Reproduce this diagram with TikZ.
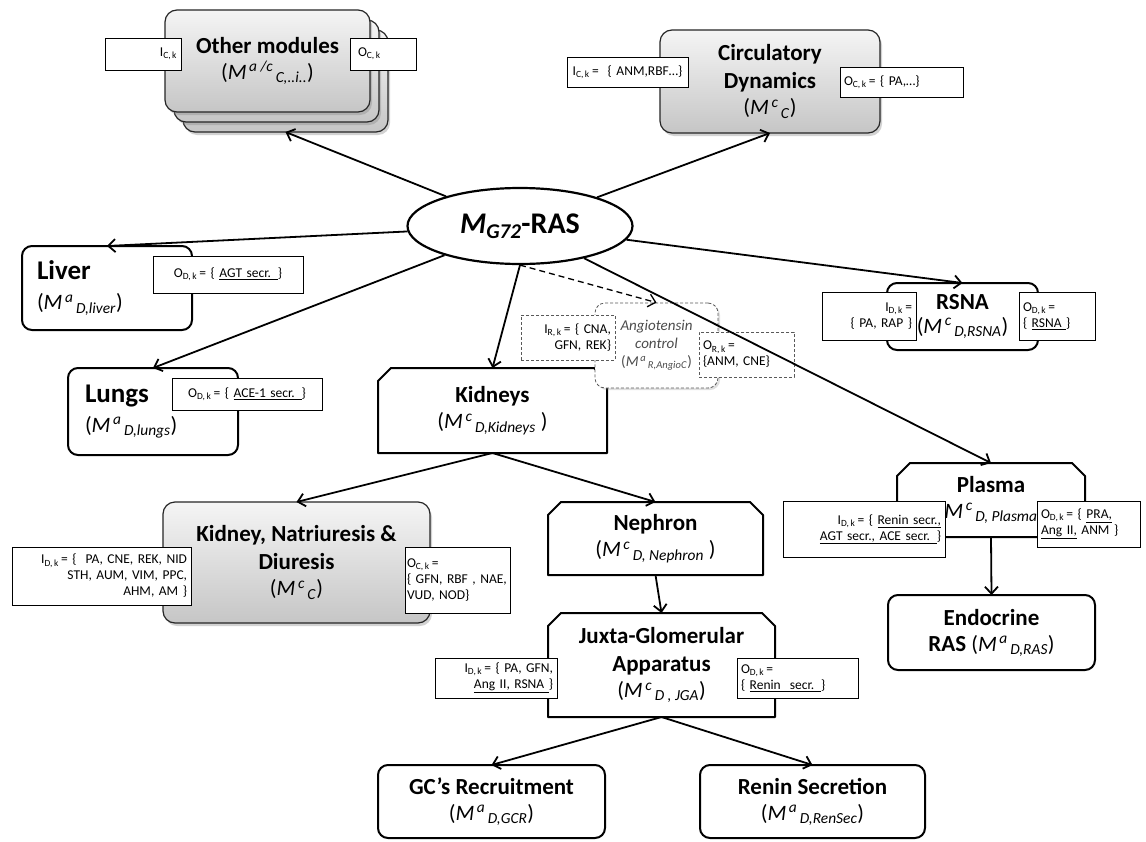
\documentclass[tikz,border=0pt]{standalone}
\usepackage{fontspec}
\setmainfont{Carlito}
\usetikzlibrary{arrows.meta,shadows,backgrounds,shapes.geometric}
\newcommand{\Mx}[2]{\textit{M}\textsuperscript{\,\textit{#1}}\textsubscript{\,\textit{#2}}}
\newcommand{\sbk}[1]{\textsubscript{#1,\,k}}
\newcommand{\ftitle}{\fontsize{23}{28}\selectfont\bfseries}
\newcommand{\fsub}{\fontsize{22}{26}\selectfont\mdseries}
\newcommand{\fbig}{\fontsize{27}{32}\selectfont\bfseries}
\newcommand{\fsmall}{\fontsize{13.5}{16}\selectfont}
\newcommand{\snipout}[1]{\draw[snipline] ([xshift=13pt]#1.north west) -- ([xshift=-13pt]#1.north east) -- ([yshift=-13pt]#1.north east) -- (#1.south east) -- (#1.south west) -- ([yshift=-13pt]#1.north west) -- cycle;}
\begin{document}
\begin{tikzpicture}[x=1pt,y=-1pt,
  graybox/.style={rounded corners=12pt, draw=black!85, line width=1.2pt, top color=gray!8, bottom color=gray!45,
    drop shadow={opacity=0.35,shadow xshift=2pt,shadow yshift=-3pt}, inner sep=0pt, outer sep=0pt, align=center, font=\ftitle},
  whitebox/.style={rounded corners=10pt, draw, line width=2pt, fill=white, inner sep=0pt, outer sep=0pt, align=center, font=\ftitle},
  snipnode/.style={draw=none, inner sep=0pt, outer sep=0pt, align=center, font=\ftitle},
  snipline/.style={draw, line width=2pt, fill=white, line join=round},
  io/.style={draw, line width=1pt, fill=white, font=\fsmall, inner xsep=4pt, inner ysep=0pt, outer sep=0pt},
  dio/.style={io, draw=gray!70!black, line width=0.8pt, dash pattern=on 3pt off 2pt},
  conn/.style={line width=1.8pt, -{Straight Barb[length=7pt,width=13pt]}},
  dconn/.style={line width=1.3pt, dash pattern=on 6pt off 4pt, -{Straight Barb[length=7pt,width=13pt]}}]
\useasboundingbox (0,0) rectangle (1146,841);

% Other modules (stack)
\node[graybox, minimum width=205pt, minimum height=102pt] (om3) at (285.5,81) {};
\node[graybox, minimum width=205pt, minimum height=102pt] (om2) at (276.5,71) {};
\node[graybox, minimum width=205pt, minimum height=102pt] (om1) at (267.5,61) {Other modules\\[-2pt]{\fsub(\Mx{a /c}{C,..i..})}};

% Circulatory dynamics
\node[graybox, minimum width=220pt, minimum height=103pt] (circ) at (770,81.5) {Circulatory\\Dynamics\\[-2pt]{\fsub(\Mx{c}{C})}};

% central ellipse
\node[ellipse, draw, line width=2.2pt, fill=white, minimum width=225pt, minimum height=76pt, inner sep=0pt] (ell) at (520,226)
  {\fontsize{30}{34}\selectfont\bfseries\textit{M}\textsubscript{\textit{G72}}-RAS};

% Liver, Lungs
\node[whitebox, minimum width=170pt, minimum height=84pt, text width=140pt, inner xsep=15pt, align=left, font=\fbig] (liver) at (107,288)
  {Liver\\[-2pt]{\fsub(\Mx{a}{D,liver})}};
\node[whitebox, minimum width=170pt, minimum height=87pt, text width=136pt, inner xsep=17pt, align=left, font=\fbig] (lungs) at (153,411.5)
  {Lungs\\[-2pt]{\fsub(\Mx{a}{D,lungs})}};

% Kidneys (snipped)
\node[snipnode, minimum width=229pt, minimum height=85pt] (kid) at (492.5,410.5) {Kidneys\\[-2pt]{\fsub(\Mx{c}{D,Kidneys} )}};

% Angiotensin control
\node[draw=gray!70!black, line width=0.8pt, dash pattern=on 3pt off 2pt, rounded corners=10pt, fill=white,
  drop shadow={opacity=0.25,shadow xshift=2pt,shadow yshift=-2pt},
  minimum width=123pt, minimum height=85pt, inner sep=0pt, align=center, text=black!70,
  font=\fontsize{15}{18}\selectfont] (ang) at (656.5,345.5)
  {\textit{Angiotensin}\\\textit{control}\\(\Mx{a}{R,AngioC})};

% RSNA
\node[whitebox, minimum width=151pt, minimum height=67pt] (rsna) at (962.5,316.5) {RSNA\\[-4pt]{\fsub(\Mx{c}{D,RSNA})}};

% Plasma (snipped), Endocrine
\node[snipnode, minimum width=188pt, minimum height=74pt] (plasma) at (991,500) {Plasma\\[-2pt]{\fsub\Mx{c}{D, Plasma}}};
\node[whitebox, minimum width=207pt, minimum height=75pt] (endo) at (991.5,632.5) {Endocrine\\[-2pt]RAS {\fsub(\Mx{a}{D,RAS})}};

% Kidney, Natriuresis & Diuresis
\node[graybox, minimum width=267pt, minimum height=121pt] (knd) at (296.5,562.5) {Kidney, Natriuresis \&\\Diuresis\\[-2pt]{\fsub(\Mx{c}{C})}};

% Nephron, JGA (snipped)
\node[snipnode, minimum width=215pt, minimum height=73pt] (neph) at (655.5,538.5) {Nephron\\[-2pt]{\fsub(\Mx{c}{D, Nephron} )}};
\node[snipnode, minimum width=227pt, minimum height=104pt] (jga) at (661.5,665) {Juxta-Glomerular\\Apparatus\\[-2pt]{\fsub(\Mx{c}{D , JGA})}};

% GC's recruitment, Renin secretion
\node[whitebox, minimum width=227pt, minimum height=73pt] (gc) at (491.5,801.5) {GC’s Recruitment\\[-2pt]{\fsub(\Mx{a}{D,GCR})}};
\node[whitebox, minimum width=225pt, minimum height=73pt] (renin) at (812.5,801.5) {Renin Secretion\\[-2pt]{\fsub(\Mx{a}{D,RenSec})}};

% page background and snipped outlines (background layer)
\begin{pgfonlayer}{background}
\fill[white] (0,0) rectangle (1146,841);
\snipout{kid}
\snipout{plasma}
\snipout{neph}
\snipout{jga}
\end{pgfonlayer}

% small I/O boxes
\node[io, minimum width=76pt, minimum height=32pt, text width=68pt, align=right] (omI) at (143,54) {I\sbk{C}\hspace{6pt}};
\node[io, minimum width=66pt, minimum height=32pt, text width=58pt, align=left] (omO) at (383,54) {\hspace{4pt}O\sbk{C}};
\node[io, minimum width=121pt, minimum height=30pt, text width=113pt, align=center] (circI) at (627.5,72) {I\sbk{C}\,= \ \{ ANM,RBF…\}};
\node[io, minimum width=123pt, minimum height=30pt, text width=115pt, align=left] (circO) at (901.5,82) {O\sbk{C}\,= \{ PA,…\}};
\node[io, minimum width=150pt, minimum height=37pt, text width=142pt, align=center] (livO) at (228,274.5) {O\sbk{D}\,= \{ \underline{AGT secr. }\}};
\node[io, minimum width=150pt, minimum height=32pt, text width=142pt, align=center] (lunO) at (247,394) {O\sbk{D}\,= \{ \underline{ACE-1 secr. }\}};
\node[dio, minimum width=94pt, minimum height=45pt, text width=86pt, align=right] (angI) at (568,337.5) {I\sbk{R}\,= \{ CNA,\\GFN, REK\}};
\node[dio, minimum width=95pt, minimum height=45pt, text width=87pt, align=left] (angO) at (746.5,354.5) {O\sbk{R}\,=\\\{ANM, CNE\}};
\node[io, minimum width=94pt, minimum height=48pt, text width=86pt, align=right] (rsnaI) at (869,316) {I\sbk{D}\,=\\\{ PA, RAP \}};
\node[io, minimum width=76pt, minimum height=48pt, text width=68pt, align=left] (rsnaO) at (1057,316) {O\sbk{D}\,=\\\{ \underline{RSNA }\}};
\node[io, minimum width=179pt, minimum height=58pt, text width=171pt, align=right] (kndI) at (101.5,576) {I\sbk{D}\,= \{\ \ PA, CNE, REK, NID\\STH, AUM, VIM, PPC,\\AHM, AM \}};
\node[io, minimum width=105pt, minimum height=66pt, text width=101pt, inner xsep=2pt, align=left] (kndO) at (457.5,580) {O\sbk{C}\,=\\\{ GFN, RBF , NAE,\\VUD, NOD\}};
\node[io, minimum width=162pt, minimum height=56pt, text width=154pt, align=right] (plI) at (864,529) {I\sbk{D}\,= \{ \underline{Renin secr.,}\\\underline{AGT secr., ACE secr. }\}};
\node[io, minimum width=103pt, minimum height=46pt, text width=95pt, align=left] (plO) at (1088.5,524) {O\sbk{D}\,= \{ \underline{PRA,}\\\underline{Ang II,} ANM \}};
\node[io, minimum width=122pt, minimum height=40pt, text width=114pt, align=right] (jgaI) at (496,678) {I\sbk{D}\,= \{ PA, GFN,\\\underline{Ang II, RSNA }\}};
\node[io, minimum width=121pt, minimum height=40pt, text width=113pt, align=left] (jgaO) at (797.5,678) {O\sbk{D}\,=\\\{ \underline{Renin\ \ secr. }\}};

% connectors
\draw[conn] (ell) -- (om3.south);
\draw[conn] (ell) -- (circ.south);
\draw[conn] (ell) -- (liver.north);
\draw[conn] (ell) -- (lungs.north);
\draw[conn] (ell.south) -- (kid.north);
\draw[dconn] (ell.south) -- (ang.north);
\draw[conn] (ell) -- (rsna.north);
\draw[conn] (ell) -- (plasma.north);
\draw[conn] (kid.south) -- (knd.north);
\draw[conn] (kid.south) -- (neph.north);
\draw[conn] (neph.south) -- (jga.north);
\draw[conn] (jga.south) -- (gc.north);
\draw[conn] (jga.south) -- (renin.north);
\draw[conn] (plasma.south) -- (endo.north);
\end{tikzpicture}
\end{document}
